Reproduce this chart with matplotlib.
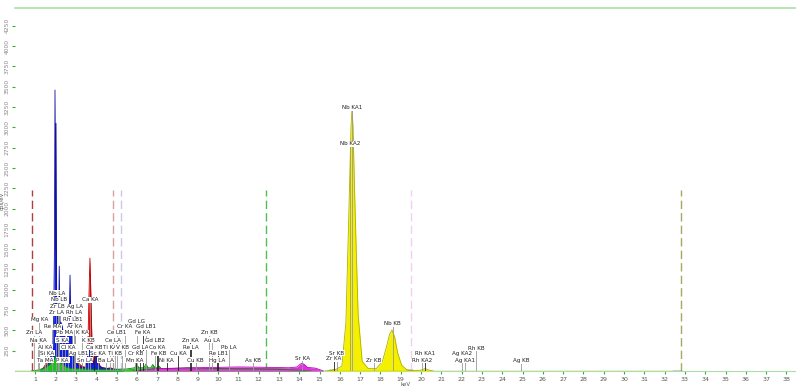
import numpy as np
import matplotlib.pyplot as plt

# Spectrum traces (energy in keV, counts)
blue_kev = [1.2, 1.5, 1.7, 1.85, 1.9, 1.94, 1.97, 2.0, 2.02, 2.05, 2.08, 2.12, 2.15, 2.18, 2.21,
            2.26, 2.32, 2.4, 2.5, 2.58, 2.64, 2.68, 2.71, 2.74, 2.78, 2.82, 2.88, 2.95, 3.1, 3.3,
            3.5, 3.62, 3.68, 3.74, 3.85, 3.98, 4.02, 4.08, 4.3, 4.6, 5.0, 5.4]
blue_cps = [0, 40, 120, 300, 600, 1400, 3460, 1500, 3050, 900, 700, 650, 600, 1290, 600,
            600, 550, 450, 400, 420, 550, 750, 1180, 650, 550, 350, 250, 150, 70, 40,
            50, 250, 320, 200, 80, 180, 200, 80, 40, 30, 20, 0]

red_kev = [1.3, 1.6, 1.9, 2.2, 2.6, 3.0, 3.3, 3.5, 3.58, 3.64, 3.69, 3.74, 3.8, 3.88, 3.95,
           4.01, 4.07, 4.2, 4.5, 4.7, 4.9, 5.2]
red_cps = [0, 120, 160, 150, 140, 120, 60, 40, 200, 900, 1390, 900, 250, 80, 200,
           320, 150, 50, 30, 40, 20, 0]

green_kev = [0.8, 1.2, 1.6, 1.9, 2.0, 2.1, 2.3, 2.5, 2.8, 3.2, 3.6, 4.0, 4.6, 5.5, 5.9, 6.0,
             6.1, 6.35, 6.45, 6.55, 6.7, 6.78, 6.9, 7.0, 7.1, 7.2, 7.6, 8.5, 10, 12, 13, 14, 14.6]
green_cps = [0, 15, 60, 140, 190, 120, 90, 50, 30, 30, 25, 20, 20, 25, 40, 80,
             40, 40, 85, 40, 40, 80, 40, 40, 60, 30, 30, 40, 30, 25, 20, 10, 0]

magenta_kev = [5.8, 7, 9, 11, 12.5, 13.5, 13.9, 14.05, 14.15, 14.25, 14.4, 14.8, 15.2]
magenta_cps = [0, 30, 40, 50, 45, 40, 50, 85, 95, 80, 45, 35, 0]

yellow_kev = [15.3, 15.8, 16.1, 16.3, 16.45, 16.55, 16.6, 16.65, 16.75, 16.9, 17.1, 17.4, 17.8,
              18.1, 18.3, 18.45, 18.57, 18.7, 18.85, 19.05, 19.3, 19.6, 20.0, 20.2, 20.4, 20.6]
yellow_cps = [0, 20, 60, 600, 2000, 3000, 3240, 3000, 2000, 700, 120, 30, 30,
              120, 300, 450, 505, 420, 220, 70, 15, 5, 10, 30, 10, 0]

purple_kev = [15.5, 17.0, 18.0, 19.6]
purple_cps = [8, 10, 10, 8]

# Region-of-interest markers
roi_kev = [0.84, 4.83, 5.22, 12.36, 19.5, 32.8]
roi_top = 2230

# Line identification labels
line_names = ["Zn LA", "Na KA", "Mg KA", "Re MA", "Al KA", "Si KA", "Ta MA", "P KA",
              "Zr LA", "Zr LB", "Nb LB", "Nb LA", "S KA", "Pb MA", "Cl KA", "Rh LA",
              "Ag LA", "Rh LB1", "Ar KA", "K KA", "K KB", "Ag LB1", "Ca KA", "Ca KB",
              "Sc KA", "Sn LA", "Ti KA", "Ba LA", "Ce LA", "Ti KB", "Ce LB1", "V KB",
              "Cr KA", "Cr KB", "Mn KA", "Gd LA", "Gd LG", "Gd LB1", "Fe KA", "Gd LB2",
              "Co KA", "Fe KB", "Ni KA", "Cu KA", "Zn KA", "Re LA", "Cu KB", "Zn KB",
              "Au LA", "Pb LA", "Re LB1", "Hg LA", "As KB", "Sr KA", "Sr KB", "Zr KA",
              "Nb KA1", "Nb KA2", "Zr KB", "Nb KB", "Rh KA1", "Rh KA2", "Ag KA2", "Ag KA1",
              "Rh KB", "Ag KB"]
line_kev = [0.95, 1.15, 1.2, 1.84, 1.49, 1.6, 1.5, 2.35,
            2.04, 2.1, 2.17, 2.1, 2.31, 2.45, 2.62, 2.9,
            2.96, 2.83, 2.96, 3.31, 3.59, 3.15, 3.69, 3.88,
            4.09, 3.44, 4.68, 4.47, 4.84, 4.93, 5.03, 5.28,
            5.41, 5.95, 5.9, 6.15, 6.0, 6.45, 6.3, 6.9,
            6.98, 7.06, 7.48, 8.04, 8.64, 8.65, 8.9, 9.57,
            9.71, 10.55, 10.01, 9.95, 11.73, 14.14, 15.84, 15.7,
            16.62, 16.52, 17.67, 18.6, 20.22, 20.07, 22.0, 22.16,
            22.72, 24.94]
line_cps = [470, 380, 630, 545, 295, 220, 135, 135,
            715, 790, 875, 960, 380, 470, 295, 715,
            790, 630, 545, 470, 380, 220, 875, 295,
            220, 135, 295, 135, 380, 220, 470, 295,
            545, 210, 135, 295, 615, 545, 470, 370,
            295, 220, 135, 220, 380, 295, 135, 470,
            380, 295, 220, 135, 135, 160, 220, 150,
            3240, 2800, 135, 580, 210, 135, 210, 135,
            280, 125]

dark_lines = {"Fe KA", "Fe KB", "Gd LA", "Co KA", "Cu KA", "Zn KA", "Re LA", "Hg LA",
              "Re LB1", "Zr KA", "Rh KA1", "Ca KB", "Cr KB", "Ni KA"}

plt.rcParams['font.family'] = ['DejaVu Sans']
fig = plt.figure(figsize=(7.96, 3.86), dpi=100)
ax = fig.add_axes([15 / 796, 15 / 386, 781 / 796, 363 / 386])

# traces: filled areas with a thin outline
def trace(x, y, color, edge, z):
    ax.fill_between(x, y, 0, color=color, lw=0, zorder=z)
    ax.plot(x, y, color=edge, lw=0.6, zorder=z + 0.1)

trace(red_kev, red_cps, '#e01010', '#c00000', 2)
trace(blue_kev, blue_cps, '#1020e0', '#1010a0', 3)
trace(green_kev, green_cps, '#20c020', '#108010', 4)
trace(magenta_kev, magenta_cps, '#e030e0', '#c000c0', 4)
trace(yellow_kev, yellow_cps, '#f5f000', '#b0b000', 5)
ax.plot(purple_kev, purple_cps, color='#6060c0', lw=0.8, zorder=4)

# baseline
ax.plot([0, 32.8], [0, 0], color='#b0b040', lw=1.0, zorder=6)
ax.plot([32.4, 32.8], [5, 5], color='#4040a0', lw=1.0, zorder=6)

roi_colors = ['#b04040', '#d8a0a0', '#c8c8ec', '#50c050', '#f0d0f0', '#a8a860']
for e, c in zip(roi_kev, roi_colors):
    ax.plot([e, e], [0, roi_top], color=c, lw=1.0, ls=(0, (6, 3)), zorder=1)

for name, e, v in zip(line_names, line_kev, line_cps):
    lc = '#202020' if name in dark_lines else '#9a9a9a'
    ax.plot([e, e], [0, v], color=lc, lw=0.6, zorder=7)
    ax.text(e, v, name, fontsize=4.1, ha='center', va='center', color='#202020', zorder=8,
            bbox=dict(boxstyle='square,pad=0.1', fc='white', ec='none'))

ax.set_xlim(0, 38.47)
ax.set_ylim(0, 4470)
ax.set_xticks(np.arange(1, 39))
ax.set_xticklabels([str(i) for i in range(1, 39)], fontsize=4.5)
ax.set_yticks(np.arange(250, 4251, 250))
ax.set_yticklabels([str(i) for i in range(250, 4251, 250)], fontsize=4.3,
                   rotation=90, va='center')
ax.tick_params(axis='both', colors='#30b030', length=2.5, width=0.8, pad=1.5)
for lab in ax.get_xticklabels():
    lab.set_color('#555555')
for lab in ax.get_yticklabels():
    lab.set_color('#888888')

ax.set_xlabel('keV', fontsize=4, color='#555555', labelpad=0.5)
ax.text(-0.016, 0.47, 'cps/eV', transform=ax.transAxes, rotation=90, fontsize=4,
        color='#555555', ha='center', va='center')

for s in ['left', 'right']:
    ax.spines[s].set_visible(False)
ax.spines['top'].set_color('#a8e0a8')
ax.spines['bottom'].set_color('#a8e0a8')
ax.spines['top'].set_linewidth(1.2)

fig.savefig('out.png', dpi=100)
